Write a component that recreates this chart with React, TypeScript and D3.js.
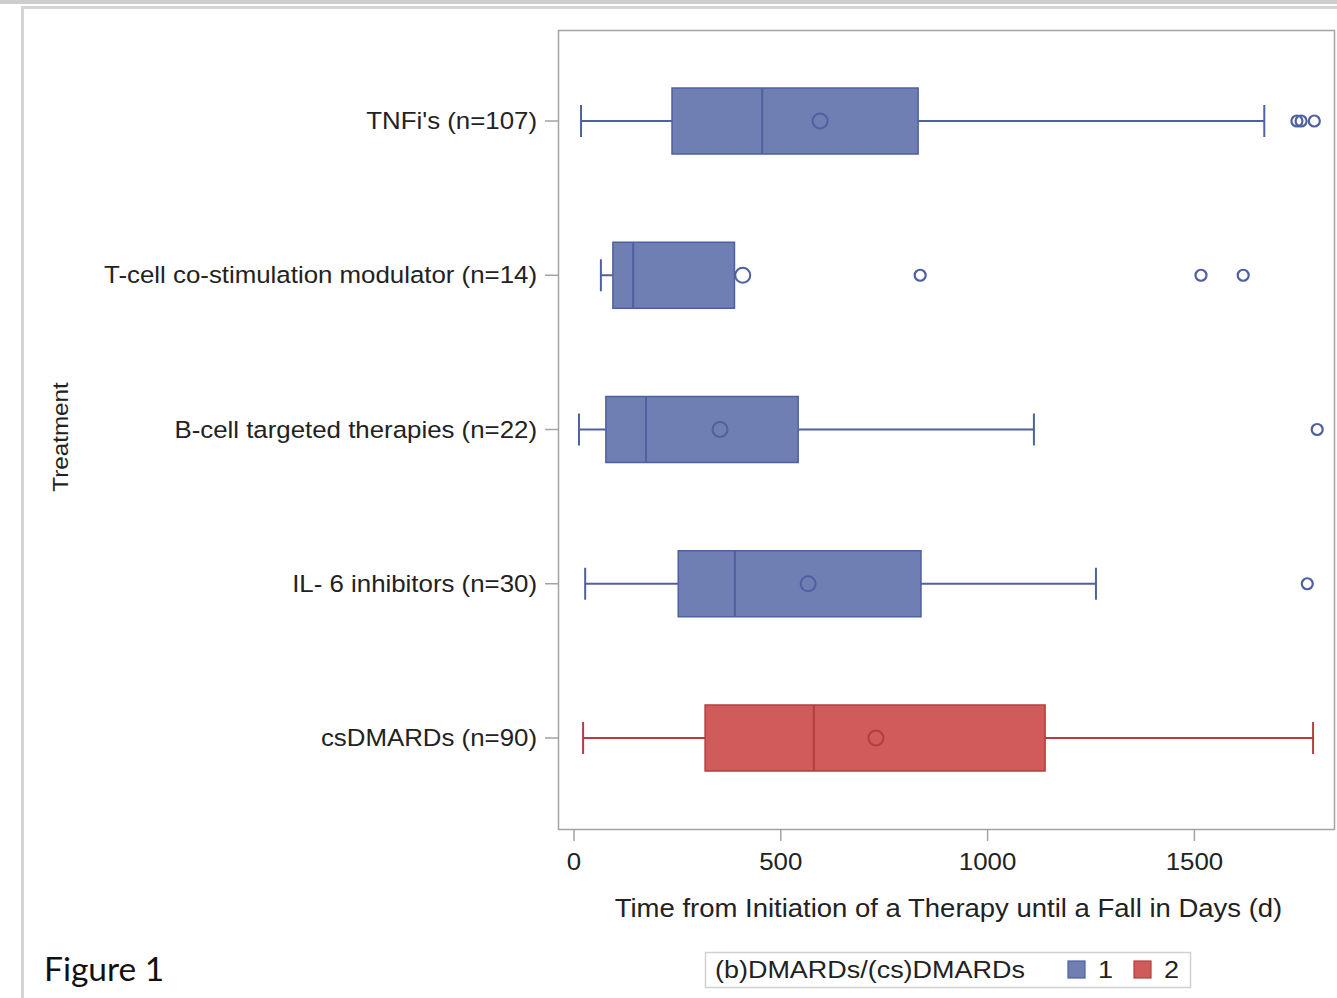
import * as d3 from "d3";

// treatment groups, top to bottom
const categories = [
  "TNFi's (n=107)",
  "T-cell co-stimulation modulator (n=14)",
  "B-cell targeted therapies (n=22)",
  "IL- 6 inhibitors (n=30)",
  "csDMARDs (n=90)",
];
const group = [1, 1, 1, 1, 2];
const whiskerLow = [17, 65, 12, 27, 22];
const q1 = [237, 94, 77, 252, 317];
const median = [455, 143, 174, 389, 580];
const q3 = [832, 388, 542, 839, 1139];
const whiskerHigh = [1669, 388, 1112, 1262, 1787];
const mean = [595, 408, 353, 566, 730];
const outliers = [[1748, 1758, 1790], [837, 1516, 1618], [1797], [1773], []];
const xTicks = [0, 500, 1000, 1500];
const legendItems = ["1", "2"];

const fills: Record<number, string> = { 1: "#6F7EB3", 2: "#D05B5B" };
const strokes: Record<number, string> = { 1: "#4F60A0", 2: "#B23E3E" };

const W = 1337;
const H = 998;
const plot = { left: 558, right: 1335, top: 30, bottom: 829 };
const axisFont = "'Liberation Sans', Arial, sans-serif";

// the source renders its sans text slightly wide, so stretch it a bit
function Txt({ x, y, anchor = "start", size, rotate = 0, children }: any) {
  return (
    <text
      transform={`translate(${x},${y}) rotate(${rotate}) scale(1.1,1)`}
      dy="0.35em"
      textAnchor={anchor}
      fontFamily={axisFont}
      fontSize={size}
      fill="#222"
    >
      {children}
    </text>
  );
}

export default function App() {
  const x = d3.scaleLinear().domain([-38.7, 1840]).range([plot.left, plot.right]);
  const y = d3
    .scalePoint<string>()
    .domain(categories)
    .range([plot.top, plot.bottom])
    .padding(0.59);
  const boxH = 66;
  const capH = 32;

  return (
    <svg
      width={W}
      height={H}
      style={{ position: "absolute", left: 0, top: 0, background: "#fff" }}
    >
      {/* page frame */}
      <rect x={0} y={0} width={W} height={4} fill="#cdcdcd" />
      <path d={`M22.5,${H} V7.5 H${W}`} fill="none" stroke="#d4d4d4" strokeWidth={3} />

      {/* plot frame */}
      <rect
        x={plot.left + 0.5}
        y={plot.top + 0.5}
        width={plot.right - plot.left - 1}
        height={plot.bottom - plot.top}
        fill="none"
        stroke="#a3a3a3"
        strokeWidth={1.5}
      />

      {categories.map((c, i) => {
        const cy = y(c)!;
        const g = group[i];
        return (
          <g key={c}>
            <line x1={545} x2={plot.left} y1={cy} y2={cy} stroke="#a3a3a3" strokeWidth={1.5} />
            <Txt x={537} y={cy} anchor="end" size={23.5}>
              {c}
            </Txt>
            {/* whiskers */}
            <line x1={x(whiskerLow[i])} x2={x(q1[i])} y1={cy} y2={cy} stroke={strokes[g]} strokeWidth={2} />
            <line x1={x(q3[i])} x2={x(whiskerHigh[i])} y1={cy} y2={cy} stroke={strokes[g]} strokeWidth={2} />
            <line
              x1={x(whiskerLow[i])}
              x2={x(whiskerLow[i])}
              y1={cy - capH / 2}
              y2={cy + capH / 2}
              stroke={strokes[g]}
              strokeWidth={2}
            />
            {whiskerHigh[i] > q3[i] && (
              <line
                x1={x(whiskerHigh[i])}
                x2={x(whiskerHigh[i])}
                y1={cy - capH / 2}
                y2={cy + capH / 2}
                stroke={strokes[g]}
                strokeWidth={2}
              />
            )}
            <rect
              x={x(q1[i])}
              y={cy - boxH / 2}
              width={x(q3[i]) - x(q1[i])}
              height={boxH}
              fill={fills[g]}
              stroke={strokes[g]}
              strokeWidth={1.5}
            />
            <line
              x1={x(median[i])}
              x2={x(median[i])}
              y1={cy - boxH / 2}
              y2={cy + boxH / 2}
              stroke={strokes[g]}
              strokeWidth={2}
            />
            <circle cx={x(mean[i])} cy={cy} r={7.5} fill="none" stroke={strokes[g]} strokeWidth={2} />
            {outliers[i].map((o, k) => (
              <circle key={k} cx={x(o)} cy={cy} r={5.5} fill="none" stroke={strokes[g]} strokeWidth={2.2} />
            ))}
          </g>
        );
      })}

      {/* x axis */}
      {xTicks.map((t) => (
        <g key={t}>
          <line x1={x(t)} x2={x(t)} y1={plot.bottom} y2={plot.bottom + 12} stroke="#a3a3a3" strokeWidth={1.5} />
          <Txt x={x(t)} y={862} anchor="middle" size={23.5}>
            {t}
          </Txt>
        </g>
      ))}
      <Txt x={(plot.left + plot.right) / 2 + 2} y={908} anchor="middle" size={25}>
        Time from Initiation of a Therapy until a Fall in Days (d)
      </Txt>
      <Txt x={60} y={437} anchor="middle" size={22} rotate={-90}>
        Treatment
      </Txt>

      {/* legend */}
      <rect x={705.5} y={952.5} width={485} height={35} fill="#fff" stroke="#d0d0d0" strokeWidth={1.5} />
      <Txt x={715} y={969} size={24.5}>
        (b)DMARDs/(cs)DMARDs
      </Txt>
      {legendItems.map((l, k) => (
        <g key={l}>
          <rect
            x={1068 + k * 66}
            y={961}
            width={17}
            height={17}
            fill={fills[k + 1]}
            stroke={strokes[k + 1]}
            strokeWidth={1.2}
          />
          <Txt x={1098 + k * 66} y={969} size={24.5}>
            {l}
          </Txt>
        </g>
      ))}

      <text x={44} y={969} dy="0.35em" fontFamily="Lato, 'Open Sans', sans-serif" fontSize={33.5} fill="#111">
        Figure 1
      </text>
    </svg>
  );
}
